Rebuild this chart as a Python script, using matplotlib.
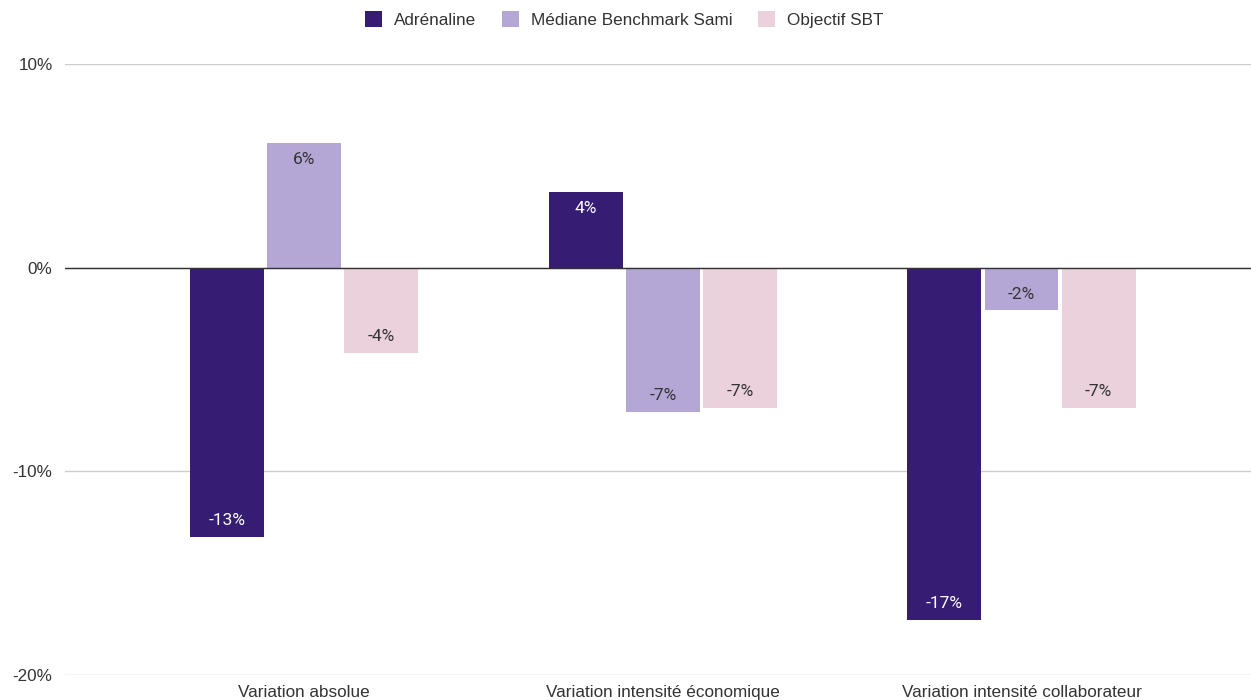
import numpy as np
import matplotlib.pyplot as plt
from matplotlib.ticker import FuncFormatter

categories = ['Variation absolue', 'Variation intensité économique', 'Variation intensité collaborateur']
series_names = ['Adrénaline', 'Médiane Benchmark Sami', 'Objectif SBT']
adrenaline = [-13.2, 3.7, -17.3]
mediane = [6.1, -7.1, -2.1]
objectif = [-4.2, -6.9, -6.9]
colors = ['#361c72', '#b4a7d6', '#ead1dc']
label_colors = ['white', '#333333', '#333333']

fig = plt.figure(figsize=(12.51, 7.0), dpi=100)
ax = fig.add_axes([65 / 1251, 25 / 700, 1 - 65 / 1251, 611 / 700])

x = np.arange(len(categories))
width = 0.206
step = 0.215
all_series = [adrenaline, mediane, objectif]
for i, (vals, name, col, lc) in enumerate(zip(all_series, series_names, colors, label_colors)):
    pos = x + (i - 1) * step
    ax.bar(pos, vals, width, color=col, label=name, zorder=3)
    for px, v in zip(pos, vals):
        off = -0.8 if v > 0 else 0.8
        ax.text(px, v + off, f'{v:.0f}%', ha='center', va='center', color=lc,
                fontsize=12.5, family='Roboto', zorder=4)

ax.set_ylim(-20, 10)
ax.set_xlim(-0.667, 2.64)
ax.set_yticks([-20, -10, 0, 10])
ax.yaxis.set_major_formatter(FuncFormatter(lambda v, p: f'{v:.0f}%'))
ax.grid(axis='y', color='#cccccc', linewidth=1, zorder=0)
ax.axhline(0, color='#333333', linewidth=1, zorder=5)
ax.set_xticks(x)
ax.set_xticklabels(categories)
for s in ax.spines.values():
    s.set_visible(False)
ax.tick_params(length=0, labelsize=12.3, colors='#333333', labelfontfamily='Liberation Sans')
ax.tick_params(axis='y', pad=9)
ax.tick_params(axis='x', pad=7)

ax.legend(loc='upper center', bbox_to_anchor=(0.5 - 34 / 1186, 1 + 68 / 611), ncol=3, frameon=False,
          handlelength=1.0, handleheight=1.0, columnspacing=1.5, handletextpad=0.7,
          labelcolor='#333333', prop={'family': 'Liberation Sans', 'size': 12.3})

fig.savefig('out.png', dpi=100)
